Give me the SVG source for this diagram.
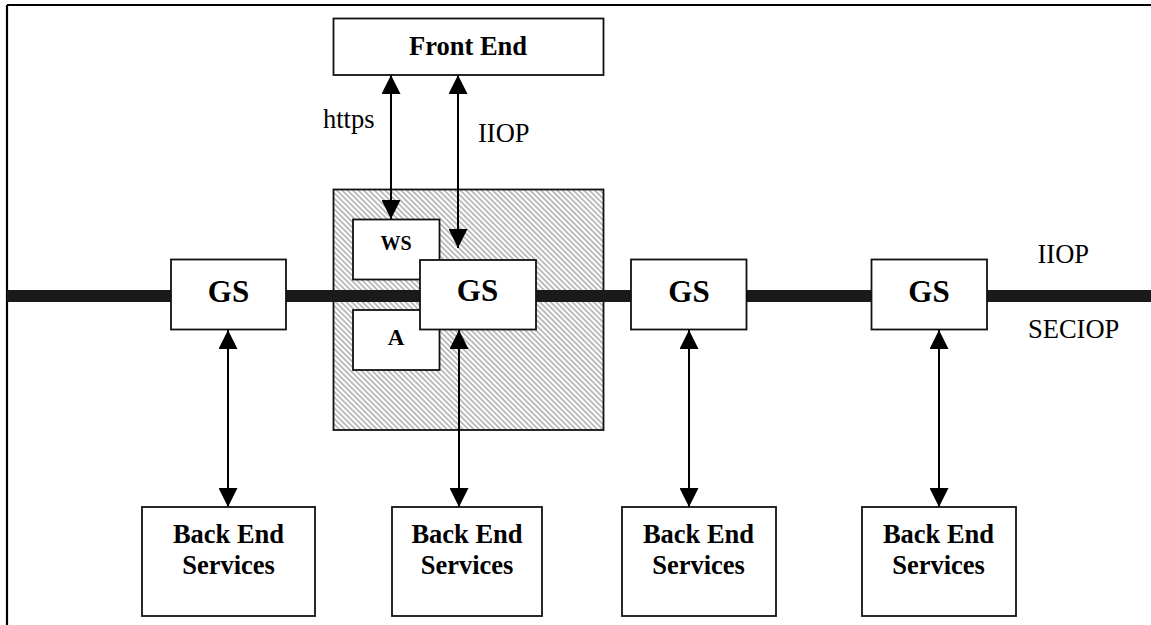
<svg xmlns="http://www.w3.org/2000/svg" width="1151" height="625" viewBox="0 0 1151 625">
<style>
.box{fill:#fff;stroke:#111;stroke-width:1.8}
.t{font-family:"Liberation Serif","Times New Roman",serif;fill:#000;text-anchor:middle}
.b{font-weight:bold}
.lbl{font-family:"Liberation Serif","Times New Roman",serif;font-size:26.5px;fill:#000}
.con{stroke:#000;stroke-width:2;fill:none;marker-start:url(#ah);marker-end:url(#ah)}
</style>
<defs>
<pattern id="hatch" width="3.8" height="3.8" patternUnits="userSpaceOnUse" patternTransform="rotate(-45)">
<rect width="3.8" height="3.8" fill="#fff"/>
<line x1="1" y1="0" x2="1" y2="3.8" stroke="#aaaaaa" stroke-width="1.5"/>
</pattern>
<marker id="ah" viewBox="0 0 20 20" refX="20" refY="10" markerWidth="20" markerHeight="19" markerUnits="userSpaceOnUse" orient="auto-start-reverse">
<path d="M0,0 L20,10 L0,20 z" fill="#000"/>
</marker>
</defs>
<rect width="1151" height="625" fill="#fff"/>
<g id="frame">
<line x1="7" y1="5" x2="1151" y2="5" stroke="#000" stroke-width="2.2"/>
<line x1="7" y1="5" x2="7" y2="625" stroke="#000" stroke-width="2.2"/>
</g>
<g id="server-zone">
<rect x="333.5" y="189.5" width="270" height="240.5" fill="url(#hatch)" stroke="#111" stroke-width="1.8"/>
</g>
<g id="bus">
<rect x="7" y="290" width="1144" height="12" fill="#1a1a1a"/>
</g>
<g id="connectors">
<line class="con" x1="391" y1="75" x2="391" y2="219"/>
<line class="con" x1="458" y1="75" x2="458" y2="248"/>
<line class="con" x1="228" y1="330" x2="228" y2="507"/>
<line class="con" x1="459" y1="330" x2="459" y2="507"/>
<line class="con" x1="689" y1="330" x2="689" y2="507"/>
<line class="con" x1="939" y1="330" x2="939" y2="507"/>
</g>
<g id="front-end">
<rect class="box" x="333.5" y="18.5" width="270" height="56.5"/>
<text class="t b" x="468" y="55" font-size="26.5">Front End</text>
</g>
<g id="ws">
<rect class="box" x="353" y="219.5" width="86.5" height="60"/>
<text class="t b" x="396" y="250" font-size="20">WS</text>
</g>
<g id="a">
<rect class="box" x="353" y="310" width="86.5" height="60"/>
<text class="t b" x="396" y="345" font-size="23">A</text>
</g>
<g id="gs1">
<rect class="box" x="171" y="259.5" width="115" height="70"/>
<text class="t b" x="228.5" y="301.5" font-size="31">GS</text>
</g>
<g id="gs2">
<rect class="box" x="420" y="260" width="116" height="69.5"/>
<text class="t b" x="477.5" y="301" font-size="31">GS</text>
</g>
<g id="gs3">
<rect class="box" x="631" y="259.5" width="115.5" height="70"/>
<text class="t b" x="689" y="301.5" font-size="31">GS</text>
</g>
<g id="gs4">
<rect class="box" x="871.5" y="259.5" width="115.5" height="70"/>
<text class="t b" x="929" y="301.5" font-size="31">GS</text>
</g>
<g id="be1">
<rect class="box" x="142" y="507" width="173" height="109"/>
<text class="t b" x="228.5" y="542.5" font-size="26.5">Back End</text>
<text class="t b" x="228.5" y="573.5" font-size="26.5">Services</text>
</g>
<g id="be2">
<rect class="box" x="392" y="507" width="150" height="109"/>
<text class="t b" x="467" y="542.5" font-size="26.5">Back End</text>
<text class="t b" x="467" y="573.5" font-size="26.5">Services</text>
</g>
<g id="be3">
<rect class="box" x="622" y="507" width="154" height="109"/>
<text class="t b" x="698.5" y="542.5" font-size="26.5">Back End</text>
<text class="t b" x="698.5" y="573.5" font-size="26.5">Services</text>
</g>
<g id="be4">
<rect class="box" x="862" y="507" width="154" height="109"/>
<text class="t b" x="938.5" y="542.5" font-size="26.5">Back End</text>
<text class="t b" x="938.5" y="573.5" font-size="26.5">Services</text>
</g>
<g id="labels">
<text class="lbl" x="323" y="128">https</text>
<text class="lbl" x="478" y="142">IIOP</text>
<text class="lbl" x="1037.5" y="263">IIOP</text>
<text class="lbl" x="1028" y="338">SECIOP</text>
</g>
</svg>
